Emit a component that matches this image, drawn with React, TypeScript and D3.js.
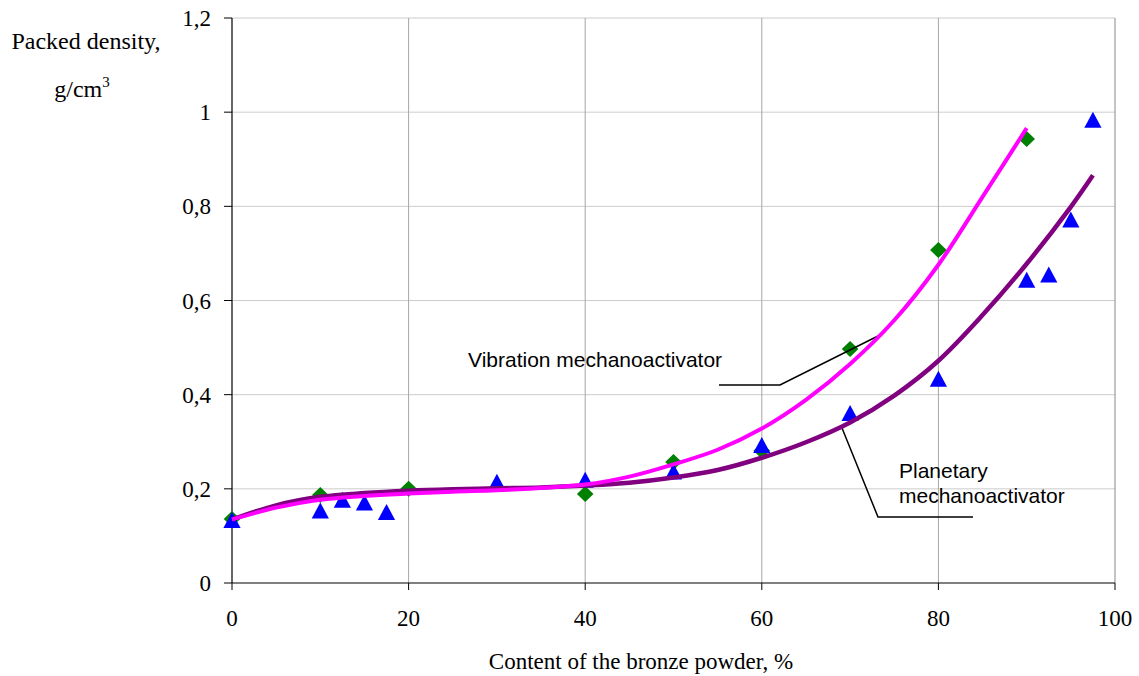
import React from 'react';
import * as d3 from 'd3';

// Packed density vs bronze powder content, two mechanoactivators
const vibX = [0, 10, 20, 40, 50, 60, 70, 80, 90];
const vibY = [0.136, 0.187, 0.2, 0.189, 0.257, 0.281, 0.497, 0.707, 0.943];

const planX = [0, 10, 12.5, 15, 17.5, 30, 40, 50, 60, 70, 80, 90, 92.5, 95, 97.5];
const planY = [0.133, 0.153, 0.176, 0.17, 0.15, 0.214, 0.218, 0.236, 0.292, 0.36, 0.433, 0.643, 0.654, 0.771, 0.983];

// trendlines
const vibTrendX = [0, 5, 10, 15, 20, 25, 30, 35, 40, 45, 50, 55, 60, 65, 70, 75, 80, 85, 90];
const vibTrendY = [0.135, 0.16, 0.177, 0.185, 0.19, 0.194, 0.197, 0.202, 0.209, 0.226, 0.252, 0.283, 0.328, 0.389, 0.465, 0.558, 0.676, 0.82, 0.966];
const planTrendX = [0, 5, 10, 15, 20, 25, 30, 35, 40, 45, 50, 55, 60, 65, 70, 75, 80, 85, 90, 95, 97.5];
const planTrendY = [0.135, 0.165, 0.183, 0.191, 0.196, 0.199, 0.201, 0.203, 0.207, 0.213, 0.224, 0.24, 0.266, 0.299, 0.341, 0.398, 0.472, 0.569, 0.678, 0.799, 0.866];

const xTicks = [0, 20, 40, 60, 80, 100];
const yTicks = [0, 0.2, 0.4, 0.6, 0.8, 1, 1.2];
const yTickLabels = ['0', '0,2', '0,4', '0,6', '0,8', '1', '1,2'];

const W = 1139;
const H = 676;
const serif = '"Liberation Serif", "Times New Roman", serif';
const sans = '"Liberation Sans", Arial, sans-serif';

const diamondPath = 'M0,-8L8.3,0L0,8L-8.3,0Z';
const trianglePath = 'M0,-8.5L8.6,7.5L-8.6,7.5Z';

export default function App() {
  const x = d3.scaleLinear().domain([0, 100]).range([232, 1115]);
  const y = d3.scaleLinear().domain([0, 1.2]).range([583, 18]);

  const line = d3.line<number>()
    .x((d) => x(d))
    .curve(d3.curveCatmullRom.alpha(0.5));

  const vibPath = line.y((_, i) => y(vibTrendY[i]))(vibTrendX) || '';
  const planPath = line.y((_, i) => y(planTrendY[i]))(planTrendX) || '';

  return (
    <div style={{ position: 'absolute', left: 0, top: 0 }}>
      <svg width={W} height={H} style={{ display: 'block', background: '#fff' }}>
        {/* grid */}
        {yTicks.slice(1).map((t) => (
          <line key={'h' + t} x1={x(0)} x2={x(100)} y1={y(t)} y2={y(t)} stroke="#cccccc" strokeWidth={1} />
        ))}
        {xTicks.slice(1).map((t) => (
          <line key={'v' + t} x1={x(t)} x2={x(t)} y1={y(0)} y2={y(1.2)} stroke={t === 100 ? '#888888' : '#a6a6a6'} strokeWidth={1} />
        ))}

        {/* axes */}
        <line x1={x(0)} x2={x(0)} y1={y(0)} y2={y(1.2)} stroke="#000" strokeWidth={1.2} />
        <line x1={x(0)} x2={x(100)} y1={y(0)} y2={y(0)} stroke="#000" strokeWidth={1.2} />
        {yTicks.map((t, i) => (
          <g key={'yt' + t}>
            <line x1={x(0) - 8} x2={x(0)} y1={y(t)} y2={y(t)} stroke="#000" strokeWidth={1} />
            <text x={211} y={y(t)} dy="0.35em" textAnchor="end" fontFamily={serif} fontSize={23}>
              {yTickLabels[i]}
            </text>
          </g>
        ))}
        {xTicks.map((t) => (
          <g key={'xt' + t}>
            <line x1={x(t)} x2={x(t)} y1={y(0)} y2={y(0) + 7} stroke="#000" strokeWidth={1} />
            <text x={x(t)} y={626} textAnchor="middle" fontFamily={serif} fontSize={23}>
              {t}
            </text>
          </g>
        ))}

        {/* axis titles */}
        <text x={86} y={49} textAnchor="middle" fontFamily={serif} fontSize={24}>
          Packed density,
        </text>
        <text x={82} y={97} textAnchor="middle" fontFamily={serif} fontSize={24}>
          g/cm<tspan fontSize={15} dy={-10}>3</tspan>
        </text>
        <text x={641} y={669} textAnchor="middle" fontFamily={serif} fontSize={23}>
          Content of the bronze powder, %
        </text>

        {/* markers */}
        {vibX.map((v, i) => (
          <path key={'d' + i} d={diamondPath} transform={`translate(${x(v)},${y(vibY[i])})`} fill="#008000" />
        ))}
        {planX.map((v, i) => (
          <path key={'t' + i} d={trianglePath} transform={`translate(${x(v)},${y(planY[i])})`} fill="#0000ff" />
        ))}

        {/* annotation leaders */}
        <polyline points="719,385 780,385 878,336" fill="none" stroke="#000" strokeWidth={1.5} />
        <polyline points="842,428 878,517 973,517" fill="none" stroke="#000" strokeWidth={1.5} />

        {/* trendlines */}
        <path d={planPath} fill="none" stroke="#800080" strokeWidth={4.5} />
        <path d={vibPath} fill="none" stroke="#ff00ff" strokeWidth={4} />

        {/* annotations */}
        <text x={468} y={367} fontFamily={sans} fontSize={21}>
          Vibration mechanoactivator
        </text>
        <text x={899} y={478} fontFamily={sans} fontSize={21}>
          Planetary
        </text>
        <text x={899} y={503} fontFamily={sans} fontSize={21}>
          mechanoactivator
        </text>
      </svg>
    </div>
  );
}
